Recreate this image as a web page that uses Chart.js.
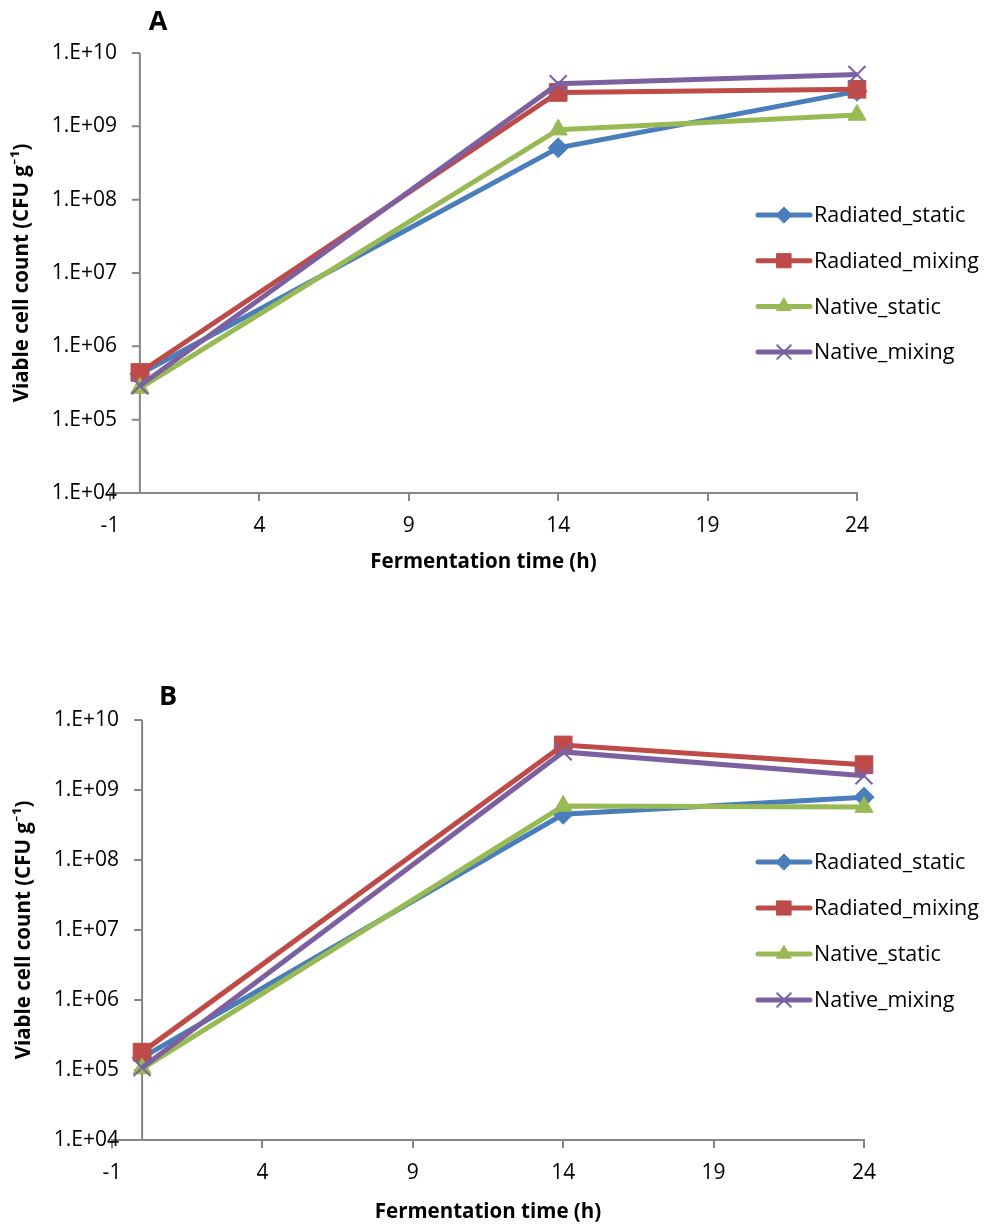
<!DOCTYPE html>
<html>
<head>
<meta charset="utf-8">
<script src="https://cdn.jsdelivr.net/npm/chart.js@4.4.0/dist/chart.umd.min.js"></script>
<style>
body { margin: 0; background: #fff; }
canvas { position: absolute; left: 0; }
#chartA { top: 0; }
#chartB { top: 615px; }
</style>
</head>
<body>
<canvas id="chartA" width="990" height="610"></canvas>
<canvas id="chartB" width="990" height="613"></canvas>
<script>
// sampling times (h)
var hours = [0, 14, 24];
var seriesNames = ['Radiated_static', 'Radiated_mixing', 'Native_static', 'Native_mixing'];

// panel A, CFU/g
var radiatedStaticA = [4.2e5, 5.1e8, 3.0e9];
var radiatedMixingA = [4.4e5, 2.9e9, 3.2e9];
var nativeStaticA   = [2.7e5, 9.0e8, 1.43e9];
var nativeMixingA   = [2.9e5, 3.8e9, 5.1e9];

// panel B, CFU/g
var radiatedStaticB = [1.5e5, 4.5e8, 7.9e8];
var radiatedMixingB = [1.8e5, 4.4e9, 2.3e9];
var nativeStaticB   = [1.05e5, 5.9e8, 5.7e8];
var nativeMixingB   = [1.08e5, 3.5e9, 1.6e9];

var xTicks = [-1, 4, 9, 14, 19, 24];
var yTicks = [1e4, 1e5, 1e6, 1e7, 1e8, 1e9, 1e10];

var colors = ['#4a7ebb', '#be4b48', '#98b954', '#7d60a0'];
var pointStyles = ['rectRot', 'rect', 'triangle', 'crossRot'];
var pointSizes = [10, 12.5, 10.5, 12];
var axisGray = '#868686';
var fontFamily = '"Open Sans", Lato, sans-serif';

Chart.defaults.font.family = fontFamily;
Chart.defaults.color = '#000';

function expLabel(v) {
	var e = Math.round(Math.log10(v));
	return '1.E+' + (e < 10 ? '0' + e : e);
}

// vertical axis crosses at x = 0, like the Excel original
var zeroAxisPlugin = {
	id: 'zeroAxis',
	afterLayout: function(chart) {
		// let the y labels run a few px past the plot edge (they are clipped to the scale box)
		chart.scales.y.right = chart.chartArea.left + 7;
	},
	beforeDatasetsDraw: function(chart) {
		var ctx = chart.ctx, xs = chart.scales.x, ys = chart.scales.y;
		var x0 = xs.getPixelForValue(0);
		ctx.save();
		ctx.strokeStyle = axisGray;
		ctx.lineWidth = 2;
		ctx.beginPath();
		ctx.moveTo(x0, ys.top);
		ctx.lineTo(x0, ys.bottom);
		ys.ticks.forEach(function(t) {
			var y = ys.getPixelForValue(t.value);
			ctx.moveTo(x0 - 8, y);
			ctx.lineTo(x0, y);
		});
		ctx.stroke();
		ctx.restore();
	}
};

var sideLegendPlugin = {
	id: 'sideLegend',
	afterDraw: function(chart, args, opts) {
		var ctx = chart.ctx;
		chart.data.datasets.forEach(function(ds, i) {
			var y = opts.top + i * opts.gap;
			ctx.save();
			ctx.strokeStyle = ds.borderColor;
			ctx.lineWidth = 5;
			ctx.lineCap = 'round';
			ctx.beginPath();
			ctx.moveTo(opts.x, y);
			ctx.lineTo(opts.x + 52, y);
			ctx.stroke();
			ctx.fillStyle = ds.pointBackgroundColor;
			ctx.strokeStyle = ds.pointBorderColor;
			ctx.lineWidth = ds.pointBorderWidth;
			Chart.helpers.drawPoint(ctx, {
				pointStyle : ds.pointStyle,
				radius     : ds.pointRadius * 0.8,
				borderWidth: ds.pointBorderWidth,
				rotation   : 0
			}, opts.x + 26, y);
			ctx.fillStyle = '#000';
			ctx.font = '21.5px ' + fontFamily;
			ctx.textBaseline = 'middle';
			ctx.textAlign = 'left';
			ctx.fillText(ds.label, opts.x + 56, y + 1);
			ctx.restore();
		});
	}
};

var panelLabelPlugin = {
	id: 'panelLabel',
	afterDraw: function(chart, args, opts) {
		var ctx = chart.ctx;
		ctx.save();
		ctx.fillStyle = '#000';
		ctx.font = 'bold 27px ' + fontFamily;
		ctx.textAlign = 'center';
		ctx.textBaseline = 'middle';
		ctx.fillText(opts.text, opts.x, opts.y);
		ctx.restore();
	}
};

function buildChart(id, panel, values, geo) {
	var datasets = values.map(function(vals, i) {
		return {
			label               : seriesNames[i],
			data                : hours.map(function(h, j) { return {x: h, y: vals[j]}; }),
			borderColor         : colors[i],
			backgroundColor     : colors[i],
			borderWidth         : 5,
			pointStyle          : pointStyles[i],
			pointRadius         : pointSizes[i],
			pointBackgroundColor: colors[i],
			pointBorderColor    : colors[i],
			pointBorderWidth    : pointStyles[i] === 'crossRot' ? 2 : 1,
			tension             : 0,
			clip                : false,
			order               : 4 - i
		};
	});

	return new Chart(document.getElementById(id).getContext('2d'), {
		type   : 'line',
		data   : { datasets: datasets },
		plugins: [zeroAxisPlugin, sideLegendPlugin, panelLabelPlugin],
		options: {
			responsive: false,
			animation : false,
			layout    : { padding: { left: geo.padLeft, right: geo.padRight, top: geo.padTop, bottom: geo.padBottom } },
			plugins   : {
				legend    : { display: false },
				tooltip   : { enabled: false },
				sideLegend: { x: 758, top: geo.legendTop, gap: geo.legendGap },
				panelLabel: { text: panel, x: geo.labelX, y: geo.labelY }
			},
			scales    : {
				x: {
					type           : 'linear',
					min            : -1,
					max            : 24,
					afterBuildTicks: function(s) { s.ticks = xTicks.map(function(v) { return {value: v}; }); },
					afterFit       : function(s) { s.height = geo.xHeight; },
					grid           : { drawOnChartArea: false, drawTicks: true, tickLength: 8, color: axisGray, lineWidth: 2 },
					border         : { display: true, color: axisGray, width: 2 },
					ticks          : { padding: 12, font: { size: 21 }, maxRotation: 0, autoSkip: false },
					title          : { display: true, text: 'Fermentation time (h)', font: { size: 20.5, weight: 'bold' }, padding: { top: 0, bottom: 0 } }
				},
				y: {
					type           : 'logarithmic',
					min            : 1e4,
					max            : 1e10,
					afterBuildTicks: function(s) { s.ticks = yTicks.map(function(v) { return {value: v}; }); },
					afterFit       : function(s) { s.width = 100; },
					grid           : { display: false, drawTicks: false },
					border         : { display: false },
					ticks          : { padding: 0, font: { size: 21 }, autoSkip: false, callback: function(v) { return expLabel(v); } },
					title          : { display: true, text: 'Viable cell count (CFU g\u207B\u00B9)', font: { size: 20.5, weight: 'bold' }, padding: { top: 0, bottom: 0 } }
				}
			}
		}
	});
}

window.onload = function() {
	buildChart('chartA', 'A', [radiatedStaticA, radiatedMixingA, nativeStaticA, nativeMixingA], {
		padLeft: 10, padRight: 133, padTop: 53, padBottom: 36, xHeight: 81,
		legendTop: 215, legendGap: 45.7, labelX: 158, labelY: 22
	});
	buildChart('chartB', 'B', [radiatedStaticB, radiatedMixingB, nativeStaticB, nativeMixingB], {
		padLeft: 12, padRight: 126, padTop: 105, padBottom: 4, xHeight: 84,
		legendTop: 247, legendGap: 46, labelX: 168, labelY: 82
	});
};
</script>
</body>
</html>
